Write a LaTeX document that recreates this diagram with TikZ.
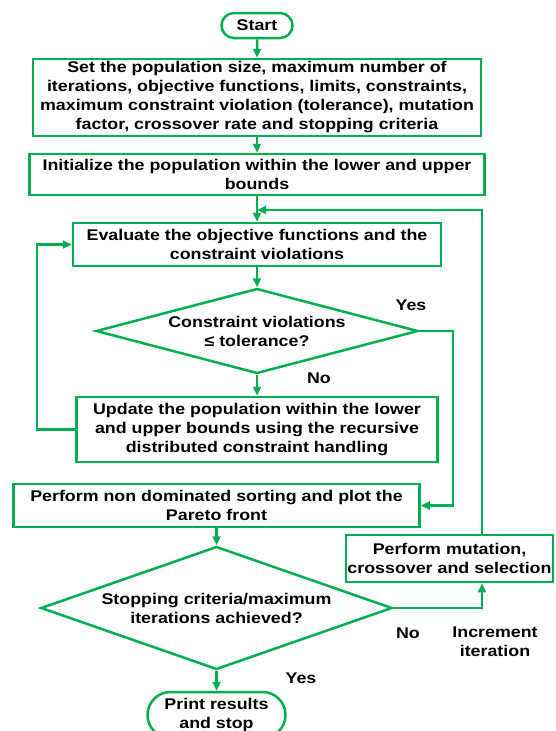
\documentclass[tikz,border=0pt]{standalone}
\usepackage{fontspec}
\setmainfont{Liberation Sans}[FakeStretch=1.15]
\usetikzlibrary{shapes.geometric,shapes.misc,arrows.meta}
\definecolor{flowgreen}{RGB}{0,176,80}

\begin{document}
\begin{tikzpicture}[x=1pt,y=-1pt,>={Triangle[length=9pt,width=8pt]},
    every node/.style={font=\fontsize{15.5}{19}\selectfont\bfseries, align=center},
    box/.style={draw=flowgreen, line width=2.5pt, inner sep=0pt},
    term/.style={rounded rectangle, draw=flowgreen, line width=2.5pt, inner sep=0pt},
    decision/.style={diamond, aspect=4, draw=flowgreen, line width=2.5pt, inner sep=0pt},
    flow/.style={draw=flowgreen, line width=2.5pt, ->}]
      \useasboundingbox (0,0) rectangle (555,731);

      \node[term, minimum width=71, minimum height=25]      (start)  at (257,25.5)    {Start};
      \node[box, minimum width=448, minimum height=77]      (set)    at (257,97.5)    {Set the population size, maximum number of\\iterations, objective functions, limits, constraints,\\maximum constraint violation (tolerance), mutation\\factor, crossover rate and stopping criteria};
      \node[box, minimum width=455, minimum height=41]      (init)   at (257,174.5)   {Initialize the population within the lower and upper\\bounds};
      \node[box, minimum width=368, minimum height=43]      (eval)   at (257,244.5)   {Evaluate the objective functions and the\\constraint violations};
      \node[decision, minimum width=322, minimum height=85] (check)  at (257,331)     {Constraint violations\\≤ tolerance?};
      \node[box, minimum width=361, minimum height=65]      (update) at (257,429.5)   {Update the population within the lower\\and upper bounds using the recursive\\distributed constraint handling};
      \node[box, minimum width=406, minimum height=43]      (pareto) at (216.5,505.5) {Perform non dominated sorting and plot the\\Pareto front};
      \node[decision, minimum width=347, minimum height=123] (stopq) at (216.5,608)   {Stopping criteria/maximum\\iterations achieved?};
      \node[term, minimum width=138, minimum height=46]     (print)  at (216.5,715)   {Print results\\and stop};
      \node[box, minimum width=207, minimum height=47]      (mut)    at (449.5,558.5) {Perform mutation,\\crossover and selection};

      \node (yes1) at (411,305) {Yes};
      \node (no1)  at (319,378) {No};
      \node (no2)  at (408,633) {No};
      \node (incr) at (495,642) {Increment\\iteration};
      \node (yes2) at (301,678) {Yes};

      \coordinate (rtop)  at (482,210);
      \coordinate (join)  at (257,210);
      \coordinate (lloop) at (37,0);
      \coordinate (ryes)  at (453,0);

      \draw[flow] (start) -- (set);
      \draw[flow] (set) -- (init);
      \draw[flow] (init) -- (eval);
      \draw[flow] (eval) -- (check);
      \draw[flow] (check) -- (update);
      \draw[flow] (check.east) -- (check.east -| ryes) |- (pareto.east);
      \draw[flow] (update.west) -- (update.west -| lloop) |- (eval.west);
      \draw[flow] (pareto) -- (stopq);
      \draw[flow] (stopq) -- (print);
      \draw[flow] (stopq.east) -| (mut.south -| rtop);
      \draw[flow] (mut.north -| rtop) -- (rtop) -- (join);
    \end{tikzpicture}
\end{document}
